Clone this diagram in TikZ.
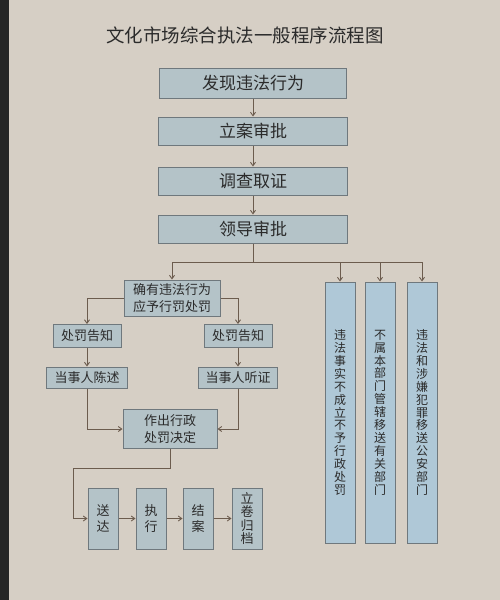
\documentclass[tikz,border=0pt]{standalone}
\usepackage{fontspec}
\setmainfont{Noto Sans CJK SC}
\usepackage{tikz}
\usetikzlibrary{arrows.meta}
\XeTeXlinebreaklocale "zh"
\XeTeXlinebreakskip=0pt plus 1pt
\definecolor{bg}{HTML}{D6CFC5}
\definecolor{bx}{HTML}{B4C3C8}
\definecolor{tb}{HTML}{AFC8D7}
\definecolor{bd}{HTML}{6F787D}
\definecolor{ln}{HTML}{6C5C4E}
\definecolor{tt}{HTML}{2B2B2B}

\begin{document}
\begin{tikzpicture}[x=1pt,y=-1pt]
            \tikzstyle{every node}=[text=tt,inner sep=0pt]
            \tikzstyle{box}=[draw=bd,fill=bx,line width=1pt,align=center]
            \tikzstyle{big}=[box,minimum width=189pt,minimum height=28pt,font=\fontsize{17}{20}\selectfont]
            \tikzstyle{small}=[box,font=\fontsize{13}{16.5}\selectfont]
            \tikzstyle{tall}=[draw=bd,fill=tb,line width=1pt,align=center,text width=12.5pt,
              minimum width=30pt,minimum height=261pt,font=\fontsize{12}{12.9}\selectfont]
            \tikzstyle{arr}=[draw=ln,line width=0.9pt,-{Straight Barb[length=3.5pt,width=5pt]}]
            \tikzstyle{lin}=[draw=ln,line width=0.9pt]
            \fill[bg] (0,0) rectangle (500,600);
            \fill[black!85] (0,0) rectangle (9,600);
            \useasboundingbox (0,0) rectangle (500,600);
            % title
            \node[font=\fontsize{18.5}{20}\selectfont] (title) at (245,35) {文化市场综合执法一般程序流程图};
            % main column
            \node[big,minimum width=187pt,minimum height=30pt] (fx) at (253,83) {发现违法行为};
            \node[big] (la) at (253,131) {立案审批};
            \node[big] (dc) at (253,181) {调查取证};
            \node[big] (ld) at (253,229) {领导审批};
            \draw[arr] (fx) -- (la);
            \draw[arr] (la) -- (dc);
            \draw[arr] (dc) -- (ld);
            % left branch
            \node[small,minimum width=96pt,minimum height=36pt] (qy) at (172,298) {确有违法行为\\应予行罚处罚};
            \node[small,minimum width=68pt,minimum height=23pt] (gzL) at (87,336) {处罚告知};
            \node[small,minimum width=68pt,minimum height=23pt] (gzR) at (238,336) {处罚告知};
            \node[small,minimum width=81pt,minimum height=21pt] (csL) at (87,377.5) {当事人陈述};
            \node[small,minimum width=79pt,minimum height=21pt] (tzR) at (238,377.5) {当事人听证};
            \node[small,minimum width=94pt,minimum height=39pt] (zc) at (170,429) {作出行政\\处罚决定};
            % right column
            \node[tall] (t1) at (340,412.5) {违法事实不成立不予行政处罚};
            \node[tall] (t2) at (380,412.5) {不属本部门管辖移送有关部门};
            \node[tall] (t3) at (422,412.5) {违法和涉嫌犯罪移送公安部门};
            % bottom row
            \node[small,minimum width=30pt,minimum height=61pt] (sd) at (103,518.5) {送\\达};
            \node[small,minimum width=30pt,minimum height=61pt] (zx) at (151,518.5) {执\\行};
            \node[small,minimum width=30pt,minimum height=61pt] (ja) at (198,518.5) {结\\案};
            \node[small,minimum width=30pt,minimum height=61pt,font=\fontsize{13}{13.5}\selectfont] (gd) at (247,518.5) {立\\卷\\归\\档};
            % connectors
            \coordinate (j) at (253,262);
            \draw[lin] (ld.south) -- (j);
            \draw[lin] (qy.north |- j) -- (t3.north |- j);
            \draw[arr] (qy.north |- j) -- (qy.north);
            \draw[arr] (t1.north |- j) -- (t1.north);
            \draw[arr] (t2.north |- j) -- (t2.north);
            \draw[arr] (t3.north |- j) -- (t3.north);
            \draw[arr] (qy.west) -| (gzL.north);
            \draw[arr] (qy.east) -| (gzR.north);
            \draw[arr] (gzL) -- (csL);
            \draw[arr] (gzR) -- (tzR);
            \draw[arr] (csL.south) |- (zc.west);
            \draw[arr] (tzR.south) |- (zc.east);
            \coordinate (k) at (73,468);
            \draw[arr] (zc.south) |- (k) |- (sd.west);
            \draw[arr] (sd) -- (zx);
            \draw[arr] (zx) -- (ja);
            \draw[arr] (ja) -- (gd);
\end{tikzpicture}
\end{document}
